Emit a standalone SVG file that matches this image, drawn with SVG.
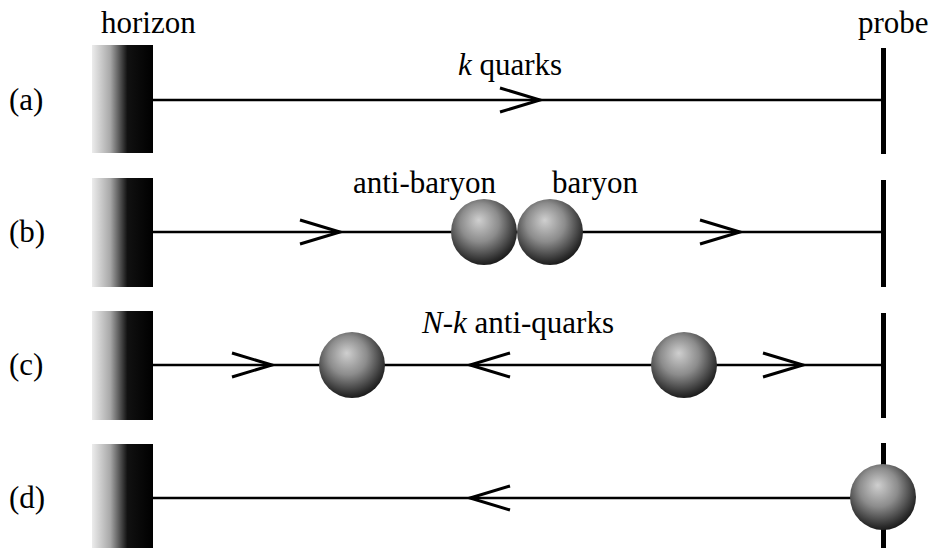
<svg xmlns="http://www.w3.org/2000/svg" width="932" height="548" viewBox="0 0 932 548">
<style>
text{font-family:"Liberation Serif",serif;font-size:31px;fill:#000}
.it{font-style:italic}
.line{stroke:#000;stroke-width:2.5;fill:none}
.arr{stroke:#000;stroke-width:3;fill:none;stroke-linejoin:miter}
.probe{fill:#000}
.hz{fill:url(#hg)}
.ball{fill:url(#bg)}
</style>
<defs>
<linearGradient id="hg" x1="0" y1="0" x2="1" y2="0">
<stop offset="0" stop-color="#ececec"/>
<stop offset="0.3" stop-color="#a8a8a8"/>
<stop offset="0.58" stop-color="#111"/>
<stop offset="1" stop-color="#000"/>
</linearGradient>
<radialGradient id="bg" cx="0.45" cy="0.4" r="0.65" fx="0.42" fy="0.32">
<stop offset="0" stop-color="#cfcfcf"/>
<stop offset="0.45" stop-color="#8c8c8c"/>
<stop offset="0.85" stop-color="#2e2e2e"/>
<stop offset="1" stop-color="#0e0e0e"/>
</radialGradient>
</defs>
<text x="101" y="33">horizon</text>
<text x="858" y="33">probe</text>
<g id="horizons">
<rect class="hz" x="92" y="45" width="61" height="108"/>
<rect class="hz" x="92" y="178" width="61" height="109"/>
<rect class="hz" x="92" y="311" width="61" height="109"/>
<rect class="hz" x="92" y="444" width="61" height="104"/>
</g>
<g id="probes">
<rect class="probe" x="881" y="48" width="5" height="106"/>
<rect class="probe" x="881" y="180" width="5" height="107"/>
<rect class="probe" x="881" y="313" width="5" height="105"/>
<rect class="probe" x="881" y="443" width="5" height="105"/>
</g>
<g id="connectors">
<line class="line" x1="153" y1="100" x2="883" y2="100"/>
<line class="line" x1="153" y1="232" x2="883" y2="232"/>
<line class="line" x1="153" y1="365" x2="883" y2="365"/>
<line class="line" x1="153" y1="498" x2="883" y2="498"/>
<polyline class="arr" points="500,88 540,100 500,112"/>
<polyline class="arr" points="300,220 340,232 300,244"/>
<polyline class="arr" points="700,220 740,232 700,244"/>
<polyline class="arr" points="232,353 272,365 232,377"/>
<polyline class="arr" points="510,353 470,365 510,377"/>
<polyline class="arr" points="763,353 803,365 763,377"/>
<polyline class="arr" points="510,486 470,498 510,510"/>
</g>
<g id="row-a">
<text x="9" y="110">(a)</text>
<text x="458" y="75"><tspan class="it">k</tspan> quarks</text>
</g>
<g id="row-b">
<text x="9" y="242">(b)</text>
<text x="353" y="193">anti-baryon</text>
<text x="552" y="193">baryon</text>
<circle id="anti-baryon" class="ball" cx="484" cy="232" r="33"/>
<circle id="baryon" class="ball" cx="550" cy="232" r="33"/>
</g>
<g id="row-c">
<text x="9" y="375">(c)</text>
<text x="422" y="333"><tspan class="it">N-k</tspan> anti-quarks</text>
<circle id="c-ball-left" class="ball" cx="352" cy="365" r="33"/>
<circle id="c-ball-right" class="ball" cx="684" cy="365" r="33"/>
</g>
<g id="row-d">
<text x="9" y="508">(d)</text>
<circle id="d-ball" class="ball" cx="883" cy="497" r="33"/>
</g>
</svg>
